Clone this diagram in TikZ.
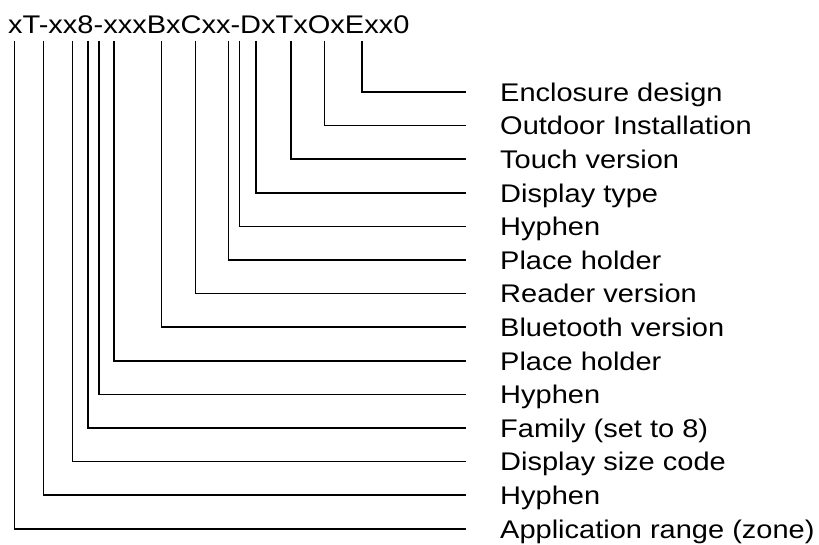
\documentclass[tikz,border=0pt]{standalone}
\usepackage{fontspec}
\setmainfont{Liberation Sans}
\usetikzlibrary{calc}

\begin{document}
\begin{tikzpicture}[x=1pt,y=-1pt,
    txt/.style={inner sep=0pt,anchor=base west,font=\fontsize{29}{33}\selectfont,
                text height=21pt,text depth=0pt,yscale=0.88,transform shape},
    conn/.style={line width=1.6pt,shorten >=34pt}
   ]
\useasboundingbox (0,0) rectangle (819,544);
\node[txt] (code) at (8,33.3) {xT-xx8-xxxBxCxx-DxTxOxExx0};
\foreach \dx [count=\i] in {6.3,35.3,64.3,80,91,105.7,153.3,187.3,220.3,231.3,247.7,283,316.3,353.7}
    \coordinate (t\i) at ([shift={(\dx,7.5)}]code.base west);
\foreach \lbl [count=\i] in {{Application range (zone)},{Hyphen},{Display size code},
    {Family (set to 8)},{Hyphen},{Place holder},{Bluetooth version},{Reader version},
    {Place holder},{Hyphen},{Display type},{Touch version},{Outdoor Installation},
    {Enclosure design}}
    \node[txt] (l\i) at (500,{538-33.6*(\i-1)}) {\lbl};
\foreach \i in {1,...,14}
    \draw[conn] (t\i) |- (l\i.west);
\end{tikzpicture}
\end{document}
